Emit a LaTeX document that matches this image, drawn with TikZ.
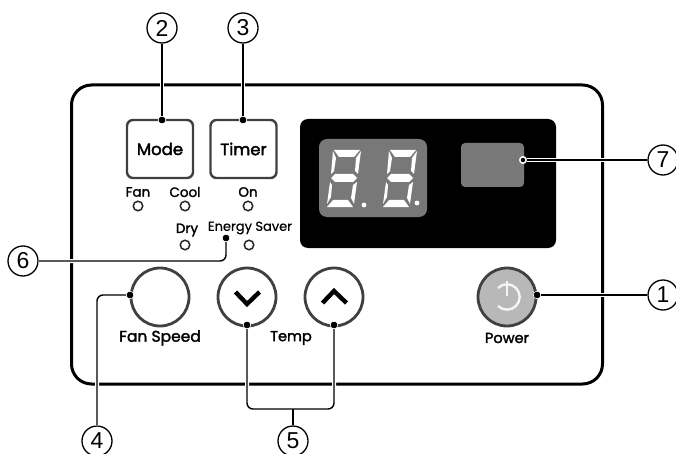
\documentclass[tikz,border=0pt]{standalone}
\usepackage{fontspec}
\setmainfont{Poppins}
\newfontfamily\numfont{Liberation Sans}
\definecolor{rimgray}{gray}{0.25}
\definecolor{dispgray}{gray}{0.47}
\definecolor{powergray}{gray}{0.72}
\tikzset{
  x=1pt,y=-1pt,
  callout/.style={circle,draw=black,line width=1.3pt,fill=white,minimum size=30pt,inner sep=0pt,font=\numfont\fontsize{23}{23}\selectfont},
  conn/.style={draw=black,line width=1.4pt,rounded corners=6pt,preaction={draw=white,line width=4pt}},
  dotn/.style={circle,fill=black,draw=white,line width=.7pt,minimum size=7.5pt,inner sep=0pt},
  keybox/.style={draw=rimgray,line width=2.4pt,rounded corners=6pt,minimum width=66pt,minimum height=58pt,inner sep=0pt,font=\fontsize{16.5}{17}\selectfont\addfontfeature{FakeBold=2.2}},
  roundkey/.style={circle,draw=rimgray,line width=2.8pt,minimum size=58pt,inner sep=0pt,fill=white},
  led/.style={circle,draw=black!85,line width=1.5pt,minimum size=9.5pt,inner sep=0pt,fill=white},
  lab/.style={inner sep=0pt,font=\fontsize{13.5}{14}\selectfont\addfontfeature{FakeBold=1.8}},
  thinlab/.style={inner sep=0pt,font=\fontsize{13}{14}\selectfont\addfontfeature{FakeBold=0.5}},
  biglab/.style={inner sep=0pt,font=\fontsize{15.5}{16}\selectfont\addfontfeature{FakeBold=2}},
  midlab/.style={inner sep=0pt,font=\fontsize{14.5}{15}\selectfont\addfontfeature{FakeBold=2}},
  seg/.style={fill=white,draw=none},
}
\newcommand{\sevenseg}[2]{%
  \begin{scope}[shift={(#1,#2)}]
    \fill[seg] (7,0)--(33,0)--(27,7)--(12,7)--cycle;
    \fill[seg] (4,28)--(8,24)--(26,24)--(30,28)--(26,32)--(8,32)--cycle;
    \fill[seg] (0,57)--(26,57)--(21,50)--(6,50)--cycle;
    \fill[seg] (6,1)--(9,8)--(7,21)--(4,24)--cycle;
    \fill[seg] (34,1)--(31,24)--(28,21)--(29,8)--cycle;
    \fill[seg] (3,32)--(5,35)--(4,47)--(0,54)--cycle;
    \fill[seg] (30,32)--(27,54)--(24,48)--(26,35)--cycle;
  \end{scope}}
\begin{document}
\begin{tikzpicture}
\useasboundingbox (0,0) rectangle (676,454);
% panel
\node[name=panel,draw=black,line width=3pt,rounded corners=20pt,minimum width=531pt,minimum height=299pt,inner sep=0pt] at (337,234.5) {};
% display
\node[name=blackbox,fill=black,rounded corners=8pt,minimum width=256pt,minimum height=129pt,inner sep=0pt] at (428,183.5) {};
\node[name=digits,fill=dispgray,rounded corners=8pt,minimum width=108pt,minimum height=78pt,inner sep=0pt] at (373,178) {};
\node[name=swatch,fill=dispgray,rounded corners=4pt,minimum width=63pt,minimum height=44pt,inner sep=0pt] at (492.5,165) {};
\sevenseg{327}{150}
\sevenseg{383}{150}
\fill[white] (364,205) circle (2.4) (417,203) circle (2.4);
% keys
\node[keybox] (mode) at (160,149) {Mode};
\node[keybox] (timer) at (243.5,149) {Timer};
\node[roundkey] (fan) at (160,297) {};
\node[roundkey] (down) at (247,297) {};
\node[roundkey] (up) at (334,297) {};
\node[roundkey,fill=powergray,draw=rimgray] (power) at (507,297) {};
\draw[black,line width=4.4pt,miter limit=10] (235.5,292) -- (247,304) -- (259.5,292);
\draw[black,line width=4.4pt,miter limit=10] (322.5,303) -- (334,291) -- (346.5,303);
\draw[white!85!powergray,line width=2.4pt] (498,288) arc[start angle=-135,end angle=135,radius=12.7] ;
\draw[white!85!powergray,line width=2pt] (507,281) -- (507,296);
% leds and labels
\node[lab] (tfan) at (138,192) {Fan};
\node[lab] (tcool) at (185,192) {Cool};
\node[lab] (ton) at (248,192) {On};
\node[lab] (tdry) at (187,230) {Dry};
\node[thinlab] (tes) at (250,228) {Energy Saver};
\node[led] (lfan) at (138,206) {};
\node[led] (lcool) at (185,206) {};
\node[led] (lon) at (248,206) {};
\node[led] (ldry) at (185,245) {};
\node[led] (les) at (249,245) {};
\node[biglab] (tfs) at (160,338) {Fan Speed};
\node[midlab] (ttemp) at (291,338) {Temp};
\node[midlab] (tpow) at (507,338) {Power};
% callouts
\node[callout] (c1) at (663,295) {1};
\node[callout] (c2) at (162,28) {2};
\node[callout] (c3) at (243,28) {3};
\node[callout] (c4) at (97,441) {4};
\node[callout] (c5) at (293,441) {5};
\node[callout] (c6) at (23,261) {6};
\node[callout] (c7) at (663,160) {7};
% connector end dots
\node[dotn] (d1) at (537,295) {};
\node[dotn] (d2) at (162,120) {};
\node[dotn] (d3) at (243,120) {};
\node[dotn] (d4) at (130,295) {};
\node[dotn] (d5a) at (247,325) {};
\node[dotn] (d5b) at (334,325) {};
\node[dotn] (d6) at (226,238) {};
\node[dotn] (d7) at (523,160) {};
\coordinate (br) at (293,409);
% connectors
\draw[conn] (c1) -- (d1);
\draw[conn] (c2) -- (d2);
\draw[conn] (c3) -- (d3);
\draw[conn] (c4) -- (c4 |- d4) -- (d4);
\draw[conn] (d5a) -- (d5a |- br) -- (d5b |- br) -- (d5b);
\draw[draw=black,line width=1.4pt] (c5) -- (br);
\draw[conn] (c6) -- (c6 -| d6) -- (d6);
\draw[conn] (c7) -- (d7);
\foreach \n in {d1,d2,d3,d4,d5a,d5b,d6,d7}{\fill[black] (\n) circle (3.2);}
\fill[white] (523,160) circle (3.6); \fill[black] (523,160) circle (2.2);
\end{tikzpicture}
\end{document}
